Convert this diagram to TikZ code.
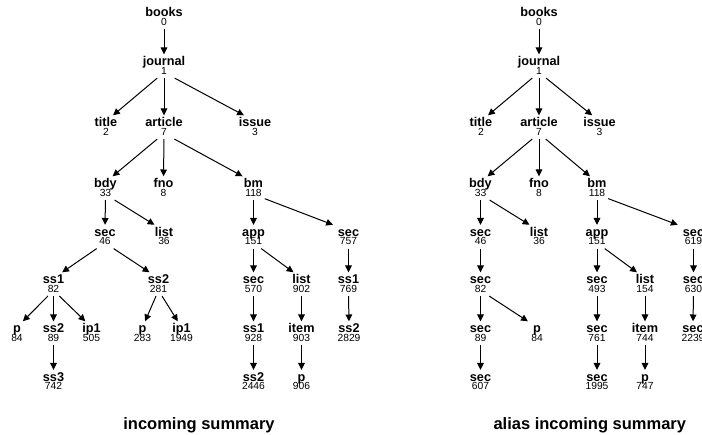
\documentclass[tikz,border=0pt]{standalone}
\usepackage{fontspec}
\setmainfont{Liberation Sans}
\usetikzlibrary{arrows.meta}

\tikzset{
  % label box: top edge 11.5pt above the baseline, centre 8.2pt above it
  lab/.style={font=\fontsize{12.7}{14}\selectfont\bfseries, anchor=base,
    inner sep=0pt, text height=11.5pt, text depth=-4.9pt, minimum width=36pt},
  num/.style={font=\fontsize{10.3}{12}\selectfont, anchor=base,
    inner xsep=0pt, inner ysep=2pt, text height=5.5pt, text depth=1.5pt,
    minimum width=22pt},
  edge/.style={draw, line width=1pt, -{Triangle[length=6.8pt,width=6.6pt]}},
  caption/.style={font=\fontsize{16.5}{18}\selectfont\bfseries, anchor=base},
}

% element node: name, x, label baseline, element label, node count
\newcommand\tnode[5]{%
  \node[lab] (#1) at (#2,#3) {#4};
  \node[num] (#1-n) at (#2,#3+8.4) {#5};
}
% edge from the count of one node to the label of another
\newcommand\tedge[2]{\draw[edge] (#1-n) -- (#2);}

\begin{document}
\begin{tikzpicture}[x=1pt,y=-1pt]
\useasboundingbox (0,0) rectangle (702,435);
\clip (0,0) rectangle (702,435);

% ---------------- incoming summary ----------------
\tnode{a0}{164}{17}{books}{0}
\tnode{a1}{164}{66}{journal}{1}
\tnode{a2}{106}{127}{title}{2}
\tnode{a7}{164}{127}{article}{7}
\tnode{a3}{255}{127}{issue}{3}
\tnode{a33}{105.5}{188}{bdy}{33}
\tnode{a8}{163.5}{188}{fno}{8}
\tnode{a118}{253.5}{188}{bm}{118}
\tnode{a46}{105}{236.5}{sec}{46}
\tnode{a36}{164}{236.5}{list}{36}
\tnode{a151}{253.5}{236.5}{app}{151}
\tnode{a757}{348.5}{236.5}{sec}{757}
\tnode{a82}{53.5}{284}{ss1}{82}
\tnode{a281}{158.5}{284}{ss2}{281}
\tnode{a570}{253.5}{284}{sec}{570}
\tnode{a902}{301.5}{284}{list}{902}
\tnode{a769}{348.5}{284}{ss1}{769}
\tnode{a84}{17}{333}{p}{84}
\tnode{a89}{53.5}{333}{ss2}{89}
\tnode{a505}{91.5}{333}{ip1}{505}
\tnode{a283}{142.5}{333}{p}{283}
\tnode{a1949}{181.5}{333}{ip1}{1949}
\tnode{a928}{253.5}{333}{ss1}{928}
\tnode{a903}{301.5}{333}{item}{903}
\tnode{a2829}{349}{333}{ss2}{2829}
\tnode{a742}{53.5}{381.5}{ss3}{742}
\tnode{a2446}{253.5}{381.5}{ss2}{2446}
\tnode{a906}{301.5}{381.5}{p}{906}

\tedge{a0}{a1}
\tedge{a1}{a2} \tedge{a1}{a7} \tedge{a1}{a3}
\tedge{a7}{a33} \tedge{a7}{a8} \tedge{a7}{a118}
\tedge{a33}{a46} \tedge{a33}{a36}
\tedge{a118}{a151} \tedge{a118}{a757}
\tedge{a46}{a82} \tedge{a46}{a281}
\tedge{a151}{a570} \tedge{a151}{a902}
\tedge{a757}{a769}
\tedge{a82}{a84} \tedge{a82}{a89} \tedge{a82}{a505}
\tedge{a281}{a283} \tedge{a281}{a1949}
\tedge{a570}{a928} \tedge{a902}{a903} \tedge{a769}{a2829}
\tedge{a89}{a742} \tedge{a928}{a2446} \tedge{a903}{a906}

\node[caption] (capa) at (199,429.3) {incoming summary};

% ---------------- alias incoming summary ----------------
\tnode{b0}{539}{17}{books}{0}
\tnode{b1}{539}{66}{journal}{1}
\tnode{b2}{481}{127}{title}{2}
\tnode{b7}{539}{127}{article}{7}
\tnode{b3}{599.5}{127}{issue}{3}
\tnode{b33}{480.5}{188}{bdy}{33}
\tnode{b8}{539}{188}{fno}{8}
\tnode{b118}{597}{188}{bm}{118}
\tnode{b46}{480.5}{236.5}{sec}{46}
\tnode{b36}{539}{236.5}{list}{36}
\tnode{b151}{597}{236.5}{app}{151}
\tnode{b619}{693.5}{236.5}{sec}{619}
\tnode{b82}{480.5}{284}{sec}{82}
\tnode{b493}{597}{284}{sec}{493}
\tnode{b154}{645}{284}{list}{154}
\tnode{b630}{693.5}{284}{sec}{630}
\tnode{b89}{480.5}{333}{sec}{89}
\tnode{b84}{537}{333}{p}{84}
\tnode{b761}{597}{333}{sec}{761}
\tnode{b744}{645}{333}{item}{744}
\tnode{b2239}{693}{333}{sec}{2239}
\tnode{b607}{480.5}{381.5}{sec}{607}
\tnode{b1995}{597}{381.5}{sec}{1995}
\tnode{b747}{645}{381.5}{p}{747}

\tedge{b0}{b1}
\tedge{b1}{b2} \tedge{b1}{b7} \tedge{b1}{b3}
\tedge{b7}{b33} \tedge{b7}{b8} \tedge{b7}{b118}
\tedge{b33}{b46} \tedge{b33}{b36}
\tedge{b118}{b151} \tedge{b118}{b619}
\tedge{b46}{b82}
\tedge{b151}{b493} \tedge{b151}{b154}
\tedge{b619}{b630}
\tedge{b82}{b89} \tedge{b82}{b84}
\tedge{b493}{b761} \tedge{b154}{b744} \tedge{b630}{b2239}
\tedge{b89}{b607} \tedge{b761}{b1995} \tedge{b744}{b747}

\node[caption] (capb) at (589.8,429.3) {alias incoming summary};
\end{tikzpicture}
\end{document}
